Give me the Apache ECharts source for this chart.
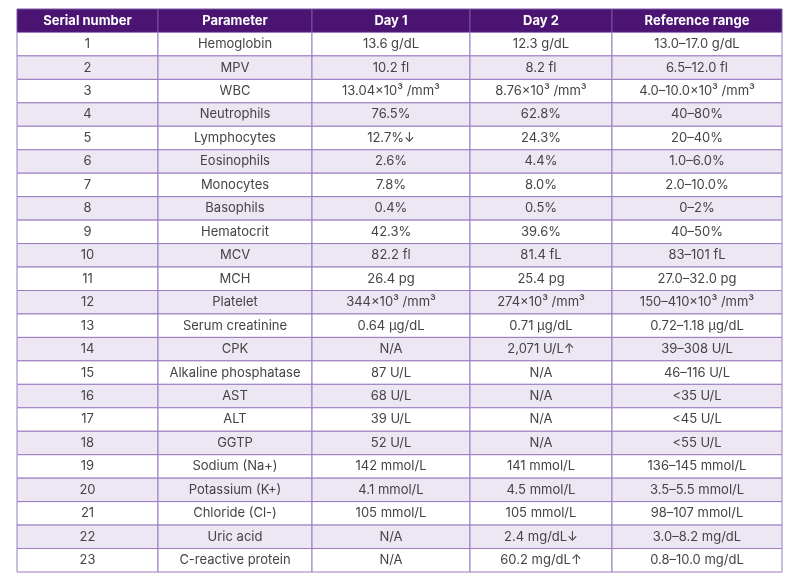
<!DOCTYPE html>
<html>
<head>
<meta charset="utf-8">
<script src="https://cdn.jsdelivr.net/npm/echarts@6/dist/echarts.min.js"></script>
<style>html,body{margin:0;background:#fff}#main{width:800px;height:587px}</style>
</head>
<body>
<div id="main"></div>
<script>
var headers = ['Serial number', 'Parameter', 'Day 1', 'Day 2', 'Reference range'];
var parameters = ['Hemoglobin','MPV','WBC','Neutrophils','Lymphocytes','Eosinophils','Monocytes','Basophils','Hematocrit','MCV','MCH','Platelet','Serum creatinine','CPK','Alkaline phosphatase','AST','ALT','GGTP','Sodium (Na+)','Potassium (K+)','Chloride (Cl-)','Uric acid','C-reactive protein'];
var day1 = ['13.6 g/dL','10.2 fl','13.04×10³ /mm³','76.5%','12.7%↓','2.6%','7.8%','0.4%','42.3%','82.2 fl','26.4 pg','344×10³ /mm³','0.64 μg/dL','N/A','87 U/L','68 U/L','39 U/L','52 U/L','142 mmol/L','4.1 mmol/L','105 mmol/L','N/A','N/A'];
var day2 = ['12.3 g/dL','8.2 fl','8.76×10³ /mm³','62.8%','24.3%','4.4%','8.0%','0.5%','39.6%','81.4 fL','25.4 pg','274×10³ /mm³','0.71 μg/dL','2,071 U/L↑','N/A','N/A','N/A','N/A','141 mmol/L','4.5 mmol/L','105 mmol/L','2.4 mg/dL↓','60.2 mg/dL↑'];
var refRange = ['13.0–17.0 g/dL','6.5–12.0 fl','4.0–10.0×10³ /mm³','40–80%','20–40%','1.0–6.0%','2.0–10.0%','0–2%','40–50%','83–101 fL','27.0–32.0 pg','150–410×10³ /mm³','0.72–1.18 μg/dL','39–308 U/L','46–116 U/L','<35 U/L','<45 U/L','<55 U/L','136–145 mmol/L','3.5–5.5 mmol/L','98–107 mmol/L','3.0–8.2 mg/dL','0.8–10.0 mg/dL'];

// column edges in axis units
var colEdges = [0, 141, 295, 453, 595, 765];

var rows = [[-1].concat(headers)];
for (var i = 0; i < parameters.length; i++) {
  rows.push([i, String(i + 1), parameters[i], day1[i], day2[i], refRange[i]]);
}

var myChart = echarts.init(document.getElementById('main'));
var option = {
  animation: false,
  grid: { left: 17, right: 18, top: 9, bottom: 15 },
  xAxis: { type: 'value', min: 0, max: 765, show: false },
  yAxis: { type: 'value', min: -1.5, max: 22.5, inverse: true, show: false },
  series: [{
    type: 'custom',
    data: rows,
    renderItem: function (params, api) {
      var r = api.value(0);
      var isHead = r === -1;
      var children = [];
      for (var c = 0; c < 5; c++) {
        var p0 = api.coord([colEdges[c], r - 0.5]);
        var p1 = api.coord([colEdges[c + 1], r + 0.5]);
        children.push({
          type: 'rect',
          shape: { x: p0[0], y: p0[1], width: p1[0] - p0[0], height: p1[1] - p0[1] },
          style: {
            fill: isHead ? '#4b1472' : (r % 2 === 1 ? '#ece7f3' : '#ffffff'),
            stroke: isHead ? '#7a55a0' : '#9a7cc0',
            lineWidth: 1
          }
        });
        children.push({
          type: 'text',
          style: {
            text: rows[params.dataIndex][c + 1],
            x: (p0[0] + p1[0]) / 2, y: (p0[1] + p1[1]) / 2,
            align: 'center', verticalAlign: 'middle',
            fontFamily: 'Inter', fontSize: 13,
            fontWeight: isHead ? 'bold' : 'normal',
            fill: isHead ? '#ffffff' : '#444444'
          }
        });
      }
      return { type: 'group', children: children };
    }
  }]
};
myChart.setOption(option);
</script>
</body>
</html>
